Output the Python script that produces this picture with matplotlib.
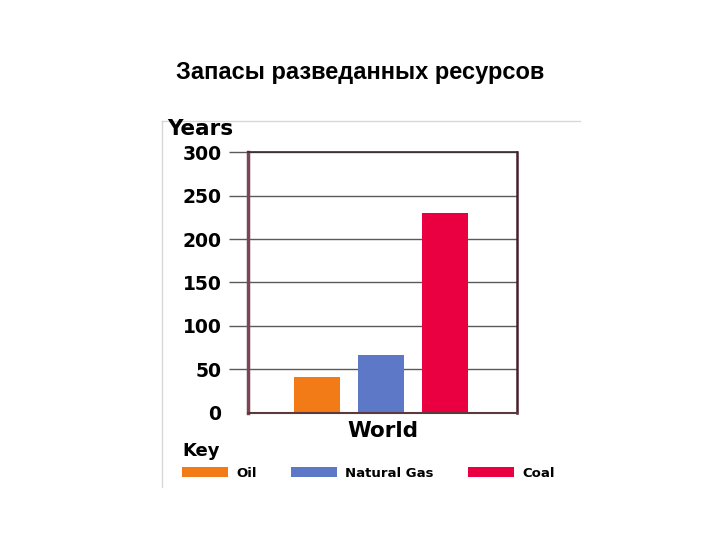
import matplotlib
matplotlib.use("Agg")
import matplotlib.pyplot as plt
from matplotlib.lines import Line2D

# data
fuels = ["Oil", "Natural Gas", "Coal"]
years = [41, 67, 230]
colors = ["#f27a17", "#5d78c6", "#ea0040"]
yticks = [0, 50, 100, 150, 200, 250, 300]

plt.rcParams["font.family"] = ["DejaVu Sans"]

fig = plt.figure(figsize=(7.2, 5.4), dpi=100)
fig.text(0.5, 1 - 72 / 540, "Запасы разведанных ресурсов", ha="center", va="center",
         fontsize=17, fontweight="bold", family=["Liberation Sans", "DejaVu Sans"])

# thin border of the embedded picture
fig.add_artist(Line2D([162 / 720, 580 / 720], [1 - 121 / 540] * 2, color="#d8d8d8", lw=1))
fig.add_artist(Line2D([162 / 720] * 2, [1 - 121 / 540, 1 - 487 / 540], color="#d8d8d8", lw=1))

ax = fig.add_axes([248 / 720, 1 - 412.7 / 540, 269 / 720, 260.4 / 540])
xpos = [0, 1, 2]
bars = ax.bar(xpos, years, width=0.72, color=colors)
ax.set_xlim(-1.08, 3.12)
ax.set_ylim(0, 300)
ax.set_yticks(yticks)
ax.set_yticklabels([str(t) for t in yticks], fontsize=13.5, fontweight="bold")
ax.set_xticks([])
ax.set_xlabel("World", fontsize=15.5, fontweight="bold", labelpad=6)
ax.grid(axis="y", color="#5a5a5a", lw=1)
ax.set_axisbelow(True)
ax.tick_params(axis="y", length=14, width=1, color="#5a5a5a", pad=5)
ax.yaxis.get_major_ticks()[0].tick1line.set_visible(False)

ax.spines["left"].set_color("#7a4656")
ax.spines["left"].set_linewidth(2.5)
ax.spines["right"].set_color("#4a1e2a")
ax.spines["right"].set_linewidth(1.8)
ax.spines["top"].set_color("#3a2a2e")
ax.spines["top"].set_linewidth(1.2)
ax.spines["bottom"].set_color("#5a3a3a")
ax.spines["bottom"].set_linewidth(1.5)

fig.text(167 / 720, 1 - 129 / 540, "Years", ha="left", va="center",
         fontsize=15.5, fontweight="bold")

leg = fig.legend(bars, fuels, title="Key", ncol=3, loc="upper left",
                 bbox_to_anchor=(177 / 720, 1 - 437 / 540), frameon=False,
                 prop={"size": 9.5, "weight": "semibold"}, title_fontsize=13,
                 handlelength=3.5, handleheight=0.75, handletextpad=0.6,
                 columnspacing=2.6, alignment="left", borderaxespad=0)
leg.get_title().set_fontweight("bold")

fig.savefig("out.png", dpi=100)
